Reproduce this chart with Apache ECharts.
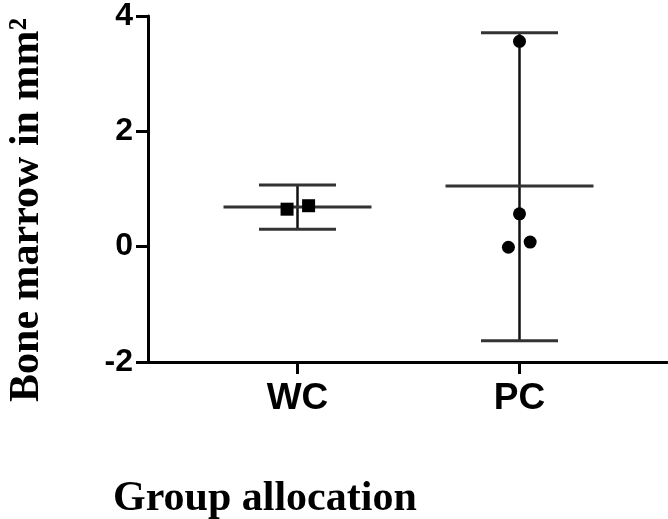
<!DOCTYPE html>
<html>
<head>
<meta charset="utf-8">
<script src="https://cdn.jsdelivr.net/npm/echarts@6/dist/echarts.min.js"></script>
<style>html,body{margin:0;padding:0;background:#fff}#c{width:668px;height:519px}</style>
</head>
<body>
<div id="c"></div>
<script>
const categories = ['WC', 'PC'];
const yTicks = [-2, 0, 2, 4];
const means = [0.69, 1.05];
const errUpper = [1.07, 3.71];
const errLower = [0.30, -1.63];
const wcValues = [0.65, 0.71];
const wcJitter = [-0.047, 0.05];
const pcValues = [3.56, 0.57, -0.01, 0.08];
const pcJitter = [0, 0, -0.05, 0.048];
const yTitle = 'Bone marrow in mm\u00B2';
const xTitle = 'Group allocation';

const chart = echarts.init(document.getElementById('c'), null, {renderer: 'canvas'});
const catPos = categories.map((c, i) => i + 1);

const errData = categories.map((c, i) => [catPos[i], means[i], errLower[i], errUpper[i]]);
const wcData = wcValues.map((v, i) => [catPos[0] + wcJitter[i], v]);
const pcData = pcValues.map((v, i) => [catPos[1] + pcJitter[i], v]);

chart.setOption({
  animation: false,
  grid: {left: 148, right: 1, top: 15, bottom: 157, containLabel: false},
  xAxis: {
    type: 'value', min: 0.3266, max: 2.6644,
    splitLine: {show: false},
    axisLine: {show: true, onZero: false, lineStyle: {color: '#000', width: 3}},
    axisTick: {show: true, customValues: catPos, length: 12, lineStyle: {color: '#000', width: 3}},
    axisLabel: {
      show: true, customValues: catPos, margin: 18,
      fontFamily: 'Liberation Sans, Arial, sans-serif', fontWeight: 'bold', fontSize: 37, color: '#000',
      formatter: v => categories[Math.round(v) - 1] || ''
    }
  },
  yAxis: {
    type: 'value', min: -2, max: 4, interval: 2,
    splitLine: {show: false},
    axisLine: {show: true, lineStyle: {color: '#000', width: 3}},
    axisTick: {show: true, length: 12, lineStyle: {color: '#000', width: 3}},
    axisLabel: {
      margin: 15, fontFamily: 'Liberation Sans, Arial, sans-serif', fontWeight: 'bold', fontSize: 32, color: '#000',
      formatter: v => yTicks.indexOf(v) >= 0 ? String(v) : ''
    }
  },
  graphic: [
    {type: 'text', x: 27, y: 210, rotation: Math.PI / 2,
     style: {text: yTitle, font: 'bold 42px "Liberation Serif", "Times New Roman", serif', fill: '#000', align: 'center', verticalAlign: 'middle'}},
    {type: 'text', x: 113, y: 499,
     style: {text: xTitle, font: 'bold 42px "Liberation Serif", "Times New Roman", serif', fill: '#000', align: 'left', verticalAlign: 'middle'}}
  ],
  series: [
    {
      type: 'custom', z: 2,
      data: errData,
      renderItem: function (params, api) {
        const x = api.value(0);
        const m = api.coord([x, api.value(1)]);
        const lo = api.coord([x, api.value(2)]);
        const hi = api.coord([x, api.value(3)]);
        const meanHalf = 74, capHalf = 38.5;
        const capStyle = {stroke: '#333', lineWidth: 3};
        return {
          type: 'group',
          children: [
            {type: 'line', shape: {x1: m[0], y1: lo[1], x2: m[0], y2: hi[1]}, style: {stroke: '#111', lineWidth: 2.5}},
            {type: 'line', shape: {x1: m[0] - capHalf, y1: hi[1], x2: m[0] + capHalf, y2: hi[1]}, style: capStyle},
            {type: 'line', shape: {x1: m[0] - capHalf, y1: lo[1], x2: m[0] + capHalf, y2: lo[1]}, style: capStyle},
            {type: 'line', shape: {x1: m[0] - meanHalf, y1: m[1], x2: m[0] + meanHalf, y2: m[1]}, style: capStyle}
          ]
        };
      }
    },
    {type: 'scatter', z: 5, symbol: 'rect', symbolSize: 13, itemStyle: {color: '#000', opacity: 1}, data: wcData},
    {type: 'scatter', z: 5, symbol: 'circle', symbolSize: 13, itemStyle: {color: '#000', opacity: 1}, data: pcData}
  ]
});
</script>
</body>
</html>
